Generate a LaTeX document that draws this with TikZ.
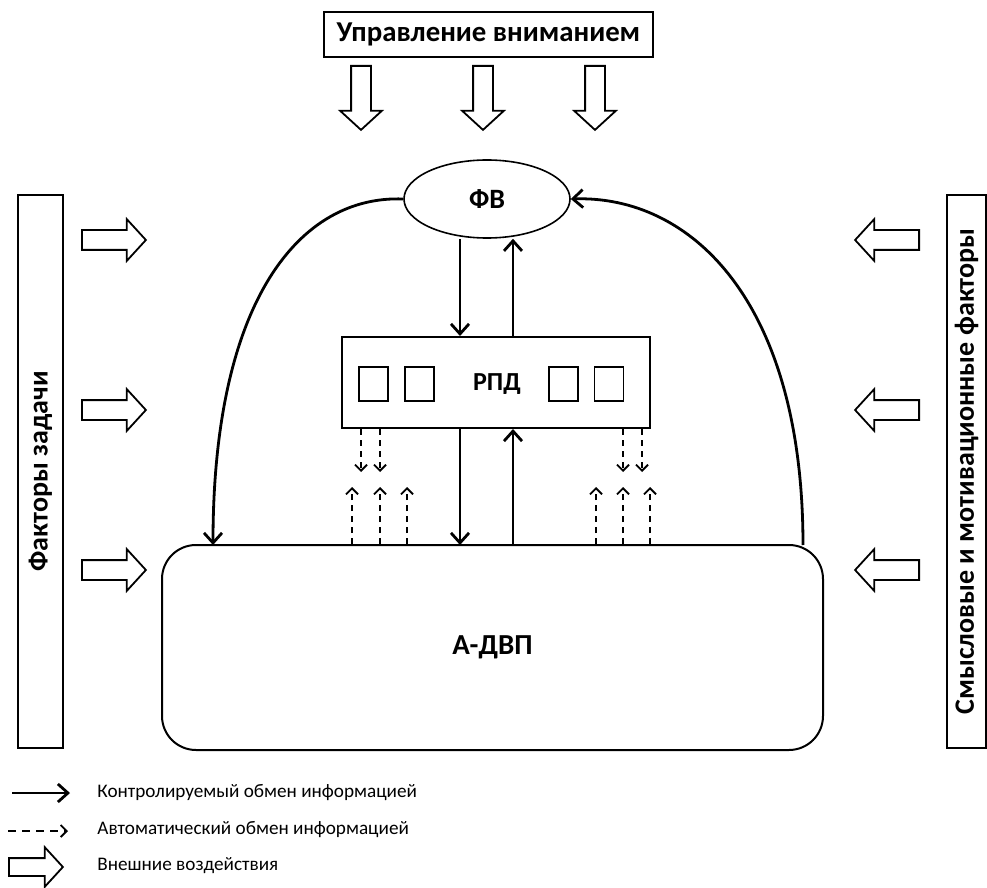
\documentclass[tikz,border=0pt]{standalone}
\usepackage{fontspec}
\setmainfont{Carlito}
\usetikzlibrary{shapes.arrows,shapes.geometric,arrows.meta}
\newcommand{\bigarrow}[4]{\node[bigarr,rotate=#4] (#1) at (#2,#3) {};}
\newcommand{\cell}[3]{\node[cellbox] (#1) at (#2,#3) {};}
\newcommand{\ctrllink}[2]{\draw[ctrl] (#1) -- (#2);}
\newcommand{\autolink}[2]{\draw[autoflow] (#1) -- (#2);}
\tikzset{
  bigarr/.style={single arrow,draw,anchor=tail,line width=0.9pt,inner sep=4.5pt,minimum height=32pt,single arrow head extend=5.5pt,single arrow tip angle=95},
  cellbox/.style={draw,line width=0.9pt,minimum width=14.5pt,minimum height=17pt,inner sep=0pt},
  ctrl/.style={line width=1.4pt,-{Straight Barb[length=5pt,width=9pt,line width=1.4pt]}},
  autoflow/.style={line width=0.9pt,dash pattern=on 3pt off 2.5pt,-{Straight Barb[length=3pt,width=6pt,line width=0.9pt]}},
  lbl/.style={font=\bfseries\fontsize{13}{15}\selectfont},
  sidebox/.style={draw,rotate=90,line width=0.6pt,minimum width=276.5pt,inner sep=0pt,font=\bfseries\fontsize{14}{16}\selectfont},
  legtext/.style={anchor=west,inner sep=0pt,font=\fontsize{9.6}{12}\selectfont}
}
\begin{document}
\begin{tikzpicture}[x=0.5pt,y=-0.5pt]
    \useasboundingbox (0,0) rectangle (987,888);
    \node[draw,line width=0.6pt,minimum width=164.5pt,minimum height=22.5pt,inner sep=0pt,font=\bfseries\fontsize{14.4}{16}\selectfont] (att) at (488.5,34.5) {Управление вниманием};
    \bigarrow{a1}{361}{65}{-90}  \bigarrow{a2}{483}{65}{-90}  \bigarrow{a3}{595}{65}{-90}
    \node[draw,ellipse,line width=0.8pt,minimum width=83pt,minimum height=39pt,inner sep=0pt,lbl,font=\bfseries\fontsize{14}{16}\selectfont] (fv) at (487,199) {ФВ};
    \node[draw,line width=1pt,minimum width=154pt,minimum height=45.5pt,inner sep=0pt] (rpd) at (496,382.5) {};
    \node[lbl] at (497,384) {РПД};
    \cell{s1}{373.5}{384}  \cell{s2}{419.5}{384}
    \cell{s3}{563.5}{384}  \cell{s4}{609}{384}
    \node[draw,rounded corners=17pt,line width=1pt,minimum width=330.5pt,minimum height=102.5pt,inner sep=0pt,lbl,font=\bfseries\fontsize{14.5}{16}\selectfont] (advp) at (492.5,647.5) {А-ДВП};
    % side factors
    \node[sidebox,minimum height=22.5pt] (task) at (40.5,471.5) {Факторы задачи};
    \node[sidebox,minimum height=19.5pt] (motiv) at (966.5,471.5) {Смысловые и мотивационные факторы};
    \foreach \n/\y in {1/240,2/410,3/570}{
      \bigarrow{l\n}{81}{\y}{0}
      \bigarrow{r\n}{920}{\y}{180}
    }
    % exchange lines
    \coordinate (c1) at (460,545); \coordinate (c2) at (513,545);
    \ctrllink{fv.south -| c1}{rpd.north -| c1}
    \ctrllink{rpd.north -| c2}{fv.south -| c2}
    \ctrllink{rpd.south -| c1}{c1}
    \ctrllink{c2}{rpd.south -| c2}
    \draw[ctrl] (fv.west) .. controls (300,195) and (213,300) .. (213,545);
    \draw[ctrl] (803,545) .. controls (803,300) and (690,195) .. (fv.east);
    \foreach \x in {361,380,623,642}{
      \coordinate (d\x) at (\x,472);
      \autolink{rpd.south -| d\x}{d\x}
    }
    \foreach \x in {352,380,407,596,623,650}{
      \coordinate (u\x) at (\x,487);
      \autolink{advp.north -| u\x}{u\x}
    }
    % legend
    \coordinate (k1) at (12,793); \coordinate (k2) at (70,793);
    \ctrllink{k1}{k2}
    \node[legtext] (kt) at (97,793) {Контролируемый обмен информацией};
    \coordinate (m1) at (8,831); \coordinate (m2) at (68,831);
    \draw[autoflow,dash pattern=on 4pt off 3pt] (m1) -- (m2);
    \node[legtext] (mt) at (97,830) {Автоматический обмен информацией};
    \node[bigarr,minimum height=27pt,inner sep=4pt] (ext) at (8,867) {};
    \node[legtext] (et) at (97,866) {Внешние воздействия};
\end{tikzpicture}
\end{document}
